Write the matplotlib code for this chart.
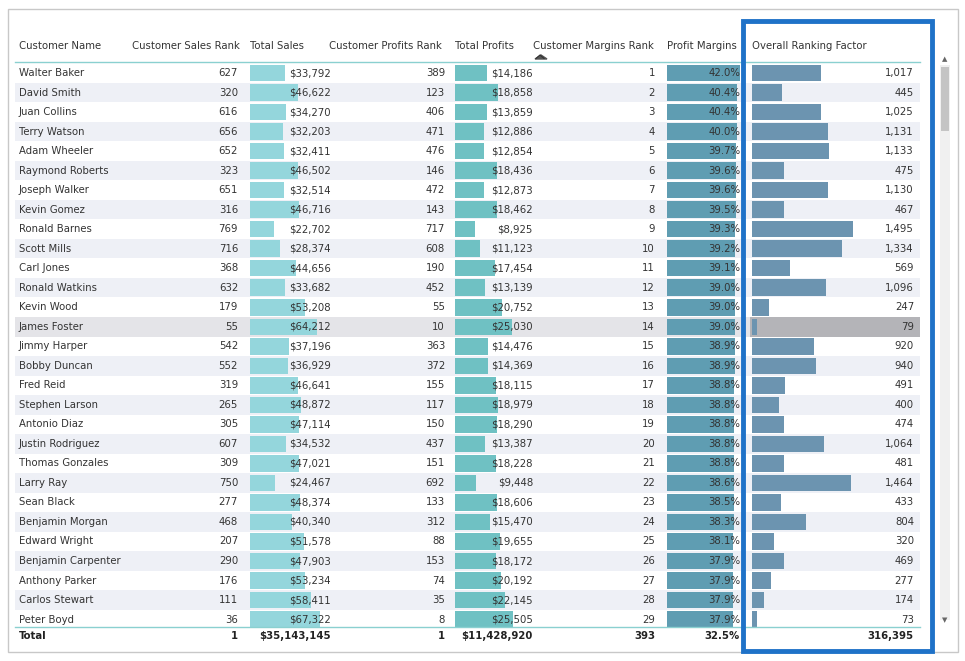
import matplotlib
matplotlib.use("Agg")
import matplotlib.pyplot as plt
from matplotlib.patches import Rectangle

names = ["Walter Baker","David Smith","Juan Collins","Terry Watson","Adam Wheeler","Raymond Roberts",
         "Joseph Walker","Kevin Gomez","Ronald Barnes","Scott Mills","Carl Jones","Ronald Watkins",
         "Kevin Wood","James Foster","Jimmy Harper","Bobby Duncan","Fred Reid","Stephen Larson",
         "Antonio Diaz","Justin Rodriguez","Thomas Gonzales","Larry Ray","Sean Black","Benjamin Morgan",
         "Edward Wright","Benjamin Carpenter","Anthony Parker","Carlos Stewart","Peter Boyd"]
sales_rank = [627,320,616,656,652,323,651,316,769,716,368,632,179,55,542,552,319,265,305,607,309,750,277,468,207,290,176,111,36]
sales = [33792,46622,34270,32203,32411,46502,32514,46716,22702,28374,44656,33682,53208,64212,37196,36929,46641,48872,47114,34532,47021,24467,48374,40340,51578,47903,53234,58411,67322]
profit_rank = [389,123,406,471,476,146,472,143,717,608,190,452,55,10,363,372,155,117,150,437,151,692,133,312,88,153,74,35,8]
profits = [14186,18858,13859,12886,12854,18436,12873,18462,8925,11123,17454,13139,20752,25030,14476,14369,18115,18979,18290,13387,18228,9448,18606,15470,19655,18172,20192,22145,25505]
margin_rank = list(range(1, 30))
margins = [42.0,40.4,40.4,40.0,39.7,39.6,39.6,39.5,39.3,39.2,39.1,39.0,39.0,39.0,38.9,38.9,38.8,38.8,38.8,38.8,38.8,38.6,38.5,38.3,38.1,37.9,37.9,37.9,37.9]
overall = [1017,445,1025,1131,1133,475,1130,467,1495,1334,569,1096,247,79,920,940,491,400,474,1064,481,1464,433,804,320,469,277,174,73]
headers = ["Customer Name","Customer Sales Rank","Total Sales","Customer Profits Rank","Total Profits",
           "Customer Margins Rank","Profit Margins","Overall Ranking Factor"]
totals = ["Total","1","$35,143,145","1","$11,428,920","393","32.5%","316,395"]

W, H = 965, 661
fig = plt.figure(figsize=(W/100, H/100), dpi=100)
ax = fig.add_axes([0, 0, 1, 1])
ax.set_xlim(0, W); ax.set_ylim(H, 0); ax.axis("off")
fig.patch.set_facecolor("white")

fs = 7.3
tc = "#333333"
y0, dy = 73, 19.52
ys = [y0 + i*dy for i in range(len(names))]

# frame
ax.add_patch(Rectangle((8, 9), 950, 643, fill=False, ec="#c8c8c8", lw=1))
# row striping
for i, y in enumerate(ys):
    if i % 2 == 1:
        ax.add_patch(Rectangle((15, y-dy/2), 905, dy, color="#eef0f6", lw=0, zorder=0))
# highlighted row
ax.add_patch(Rectangle((15, ys[13]-dy/2), 905, dy, color="#e4e4e8", lw=0, zorder=0))
ax.add_patch(Rectangle((750, ys[13]-dy/2), 170, dy, color="#b4b4b8", lw=0, zorder=0.5))

bh = dy - 3
ax.barh(ys, [s/67322*70 for s in sales], left=250, height=bh, color="#94d6dc", zorder=1)
ax.barh(ys, [p/25505*58 for p in profits], left=455, height=bh, color="#6fc1c3", zorder=1)
ax.barh(ys, [m/42.0*73 for m in margins], left=667, height=bh, color="#5f9db2", zorder=1)
ax.barh(ys, [o/1495*101 for o in overall], left=752, height=bh, color="#6c94b0", zorder=1)

# headers
hx = [19, 132, 250, 329, 455, 533, 667, 752]
for x, h in zip(hx, headers):
    ax.text(x, 46, h, fontsize=fs, color=tc, va="center", ha="left")
ax.plot([536, 540, 544], [58.5, 55, 58.5], color="#333", lw=0.8)
ax.add_patch(plt.Polygon([[535, 59], [541, 55], [547, 59]], color="#555"))
ax.plot([15, 920], [62, 62], color="#8ad0d0", lw=1)

for i, y in enumerate(ys):
    ax.text(19, y, names[i], fontsize=fs, color=tc, va="center")
    ax.text(238, y, f"{sales_rank[i]}", fontsize=fs, color=tc, va="center", ha="right")
    ax.text(331, y, f"${sales[i]:,}", fontsize=fs, color=tc, va="center", ha="right", zorder=2)
    ax.text(445, y, f"{profit_rank[i]}", fontsize=fs, color=tc, va="center", ha="right")
    ax.text(533, y, f"${profits[i]:,}", fontsize=fs, color=tc, va="center", ha="right", zorder=2)
    ax.text(655, y, f"{margin_rank[i]}", fontsize=fs, color=tc, va="center", ha="right")
    ax.text(740, y, f"{margins[i]:.1f}%", fontsize=fs, color=tc, va="center", ha="right", zorder=2)
    ax.text(914, y, f"{overall[i]:,}", fontsize=fs, color=tc, va="center", ha="right", zorder=2)

# total row
ax.plot([15, 920], [627, 627], color="#8ad0d0", lw=1)
tx = [19, 238, 331, 445, 533, 655, 740, 914]
for j, (x, t) in enumerate(zip(tx, totals)):
    ax.text(x, 636, t, fontsize=fs, color="#222", va="center", ha="left" if j == 0 else "right", weight="bold")

# scrollbar
ax.add_patch(Rectangle((940, 65), 10, 555, color="#f0f0f0", lw=0))
ax.add_patch(Rectangle((941, 67), 8, 64, color="#c4c4c4", lw=0))
ax.text(945, 59, "▲", fontsize=5, color="#666", ha="center", va="center")
ax.text(945, 620, "▼", fontsize=5, color="#666", ha="center", va="center")

# blue highlight box
ax.add_patch(Rectangle((743, 21), 189, 630, fill=False, ec="#1f72c8", lw=3.5, zorder=5))
fig.savefig("out.png", dpi=100)
